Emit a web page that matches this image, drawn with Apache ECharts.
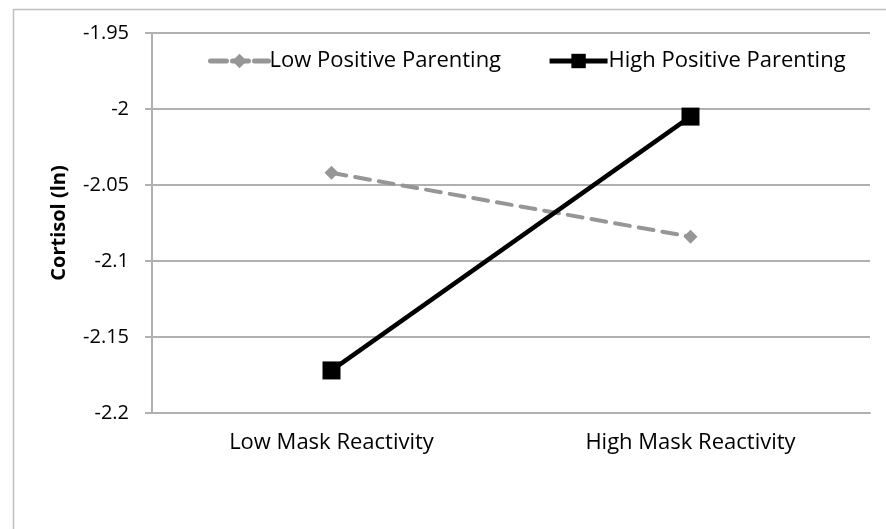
<!DOCTYPE html>
<html>
<head>
<meta charset="utf-8">
<script src="https://cdn.jsdelivr.net/npm/echarts@6/dist/echarts.min.js"></script>
<style>
html,body{margin:0;padding:0;background:#fff;}
#c{width:886px;height:529px;}
</style>
</head>
<body>
<div id="c"></div>
<script>
const categories = ['Low Mask Reactivity', 'High Mask Reactivity'];
const lowPositiveParenting = [-2.042, -2.084];
const highPositiveParenting = [-2.172, -2.005];
const seriesNames = ['Low Positive Parenting', 'High Positive Parenting'];
const yAxisName = 'Cortisol (ln)';

const FONT = 'Open Sans';
const chart = echarts.init(document.getElementById('c'));
chart.setOption({
  animation: false,
  backgroundColor: '#fff',
  graphic: [{
    type: 'rect', left: 11, top: 7, silent: true,
    shape: { width: 900, height: 600 },
    style: { fill: 'none', stroke: '#bfbfbf', lineWidth: 1.5 }
  }],
  legend: {
    top: 45, left: 203,
    itemWidth: 58, itemHeight: 18, itemGap: 46,
    textStyle: { fontFamily: FONT, fontSize: 22, color: '#000', padding: [0,0,0,-4] },
    data: [
      { name: seriesNames[0], lineStyle: { width: 5, type: [16, 6], color: '#969696' } },
      { name: seriesNames[1], lineStyle: { width: 5, color: '#000' } }
    ]
  },
  grid: { left: 152, right: 16, top: 33, bottom: 116 },
  xAxis: {
    type: 'category', data: categories, boundaryGap: true,
    axisLine: { show: true, lineStyle: { color: '#b0b0b0', width: 2 } },
    axisTick: { show: false },
    axisLabel: { fontFamily: FONT, fontSize: 22, color: '#000', margin: 19 }
  },
  yAxis: {
    type: 'value', min: -2.2, max: -1.95, interval: 0.05,
    name: yAxisName, nameLocation: 'middle', nameGap: 83,
    nameTextStyle: { fontFamily: FONT, fontSize: 20, fontWeight: 'bold', color: '#000' },
    axisLine: { show: true, lineStyle: { color: '#b0b0b0', width: 2 } },
    axisTick: { show: true, length: 7, lineStyle: { color: '#b0b0b0', width: 2 } },
    splitLine: { lineStyle: { color: '#b0b0b0', width: 2 } },
    axisLabel: {
      fontFamily: FONT, fontSize: 20, color: '#000', margin: 23,
      formatter: v => String(Math.round(v * 100) / 100)
    }
  },
  series: [
    {
      name: seriesNames[0], type: 'line', data: lowPositiveParenting,
      symbol: 'diamond', symbolSize: 14,
      itemStyle: { color: '#969696' },
      lineStyle: { color: '#969696', width: 4, type: [15, 9], cap: 'round' }
    },
    {
      name: seriesNames[1], type: 'line', data: highPositiveParenting,
      symbol: 'rect', symbolSize: 18,
      itemStyle: { color: '#000' },
      lineStyle: { color: '#000', width: 4.5 }
    }
  ]
});
</script>
</body>
</html>
